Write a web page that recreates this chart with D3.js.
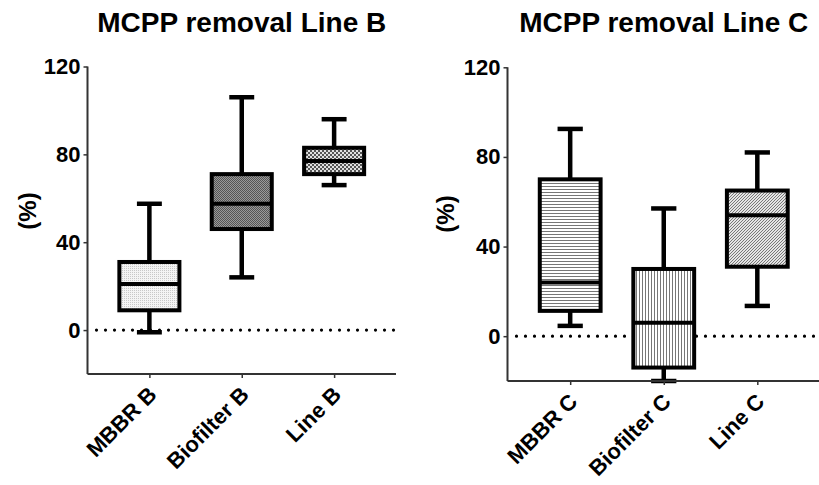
<!DOCTYPE html>
<html><head><meta charset="utf-8">
<script src="https://cdn.jsdelivr.net/npm/d3@7"></script>
<style>
html,body{margin:0;padding:0;background:#fff;}
text{font-family:"Liberation Sans",Arial,Helvetica,sans-serif;font-weight:bold;fill:#000;}
</style></head>
<body>
<svg id="chart" width="819" height="485"></svg>
<script>
// ---- data ----
const titles = ["MCPP removal Line B", "MCPP removal Line C"];
const categoriesB = ["MBBR B", "Biofilter B", "Line B"];
const categoriesC = ["MBBR C", "Biofilter C", "Line C"];
// [min, q1, median, q3, max]
const statsB = [
  [-1, 9, 21, 31, 57.5],
  [24, 46, 57.5, 71, 106],
  [66, 71, 77, 83, 96]
];
const statsC = [
  [4.6, 11.3, 24, 70, 92.5],
  [-20, -14, 6, 30, 57],
  [13.5, 31, 54, 65, 82]
];
const yTicks = [0, 40, 80, 120];
const yLabel = "(%)";
const patternsB = ["pLight", "pDark", "pCheck"];
const patternsC = ["pHoriz", "pVert", "pDiag"];

const svg = d3.select("#chart");
const defs = svg.append("defs");

function pat(id, w, h, draw){
  const p = defs.append("pattern").attr("id", id).attr("patternUnits","userSpaceOnUse")
    .attr("width", w).attr("height", h);
  draw(p);
}
pat("pLight", 2, 2, p => {
  p.append("rect").attr("width",2).attr("height",2).attr("fill","#f4f4f4");
  p.append("rect").attr("width",1).attr("height",1).attr("fill","#c8c8c8");
});
pat("pDark", 2, 2, p => {
  p.append("rect").attr("width",2).attr("height",2).attr("fill","#9a9a9a");
  p.append("rect").attr("width",1).attr("height",1).attr("fill","#555");
  p.append("rect").attr("x",1).attr("y",1).attr("width",1).attr("height",1).attr("fill","#555");
});
pat("pCheck", 4, 4, p => {
  p.append("rect").attr("width",4).attr("height",4).attr("fill","#e0e0e0");
  p.append("rect").attr("width",2).attr("height",2).attr("fill","#555");
  p.append("rect").attr("x",2).attr("y",2).attr("width",2).attr("height",2).attr("fill","#555");
});
pat("pHoriz", 4, 3, p => {
  p.append("rect").attr("width",4).attr("height",3).attr("fill","#fff");
  p.append("rect").attr("width",4).attr("height",1).attr("fill","#777");
});
pat("pVert", 3, 4, p => {
  p.append("rect").attr("width",3).attr("height",4).attr("fill","#fff");
  p.append("rect").attr("width",1).attr("height",4).attr("fill","#777");
});
pat("pDiag", 3, 3, p => {
  p.append("rect").attr("width",3).attr("height",3).attr("fill","#e4e4e4");
  p.append("path").attr("d","M0,3 L3,0 M-1,1 L1,-1 M2,4 L4,2").attr("stroke","#777").attr("stroke-width",1);
});

function panel(cfg){
  const {cats, stats, pats, title, x0, x1, yTop, yBot, labelX, labelY} = cfg;
  const g = svg.append("g");
  const x = d3.scalePoint().domain(cats).range([x0, x1]).padding(0.67);
  const y = d3.scaleLinear().domain([-20, 120]).range([yBot, yTop]);
  const bw = x.step() * 0.65;
  const cw = x.step() * 0.27;

  // zero dotted line
  g.append("line").attr("x1", x0 + 9).attr("x2", x1 - 2)
    .attr("y1", y(0)).attr("y2", y(0))
    .attr("stroke", "#000").attr("stroke-width", 3.2)
    .attr("stroke-dasharray", "0 9").attr("stroke-linecap", "round");

  // boxes
  cats.forEach((c, i) => {
    const s = stats[i], cx = x(c);
    const bg = g.append("g");
    bg.append("line").attr("x1", cx).attr("x2", cx).attr("y1", y(s[0])).attr("y2", y(s[4]))
      .attr("stroke", "#000").attr("stroke-width", 4.5);
    bg.append("line").attr("x1", cx - cw/2).attr("x2", cx + cw/2).attr("y1", y(s[4])).attr("y2", y(s[4]))
      .attr("stroke", "#000").attr("stroke-width", 4.5);
    bg.append("line").attr("x1", cx - cw/2).attr("x2", cx + cw/2).attr("y1", y(s[0])).attr("y2", y(s[0]))
      .attr("stroke", "#000").attr("stroke-width", 4.5);
    bg.append("rect").attr("x", cx - bw/2).attr("width", bw)
      .attr("y", y(s[3])).attr("height", y(s[1]) - y(s[3]))
      .attr("fill", `url(#${pats[i]})`).attr("stroke", "#000").attr("stroke-width", 4);
    bg.append("line").attr("x1", cx - bw/2).attr("x2", cx + bw/2).attr("y1", y(s[2])).attr("y2", y(s[2]))
      .attr("stroke", "#000").attr("stroke-width", 4);
  });

  // axes
  const ya = g.append("g").attr("transform", `translate(${x0},0)`)
    .call(d3.axisLeft(y).tickValues(yTicks).tickSize(4).tickPadding(3).tickFormat(d3.format("d")));
  ya.select(".domain").attr("stroke", "#333").attr("stroke-width", 2)
    .attr("d", `M0,${yTop}V${yBot}`);
  ya.selectAll(".tick line").attr("stroke", "#333").attr("stroke-width", 1.5);
  ya.selectAll(".tick text").style("font-size", "22px").attr("fill", "#000");

  const xa = g.append("g").attr("transform", `translate(0,${yBot})`)
    .call(d3.axisBottom(x).tickSize(4).tickPadding(0));
  xa.select(".domain").attr("stroke", "#333").attr("stroke-width", 2)
    .attr("d", `M${x0},0H${x1}`);
  xa.selectAll(".tick line").attr("stroke", "#333").attr("stroke-width", 1.5);
  xa.selectAll(".tick text").style("font-size", "22px").attr("fill", "#000")
    .attr("text-anchor", "end").attr("dy", null).attr("y", null)
    .attr("transform", "translate(8,22) rotate(-45)");

  // title
  g.append("text").attr("x", (x0 + x1) / 2).attr("y", 32)
    .attr("text-anchor", "middle").style("font-size", "28px").text(title);

  // y label
  g.append("text").attr("transform", `translate(${labelX},${labelY}) rotate(-90)`)
    .attr("text-anchor", "middle").attr("dy", "0.35em").style("font-size", "24px").text(yLabel);
}

panel({cats: categoriesB, stats: statsB, pats: patternsB, title: titles[0],
  x0: 87.5, x1: 396, yTop: 66.5, yBot: 374, labelX: 28, labelY: 211});
panel({cats: categoriesC, stats: statsC, pats: patternsC, title: titles[1],
  x0: 507.5, x1: 820, yTop: 67.3, yBot: 381, labelX: 446, labelY: 214});
</script>
</body></html>
